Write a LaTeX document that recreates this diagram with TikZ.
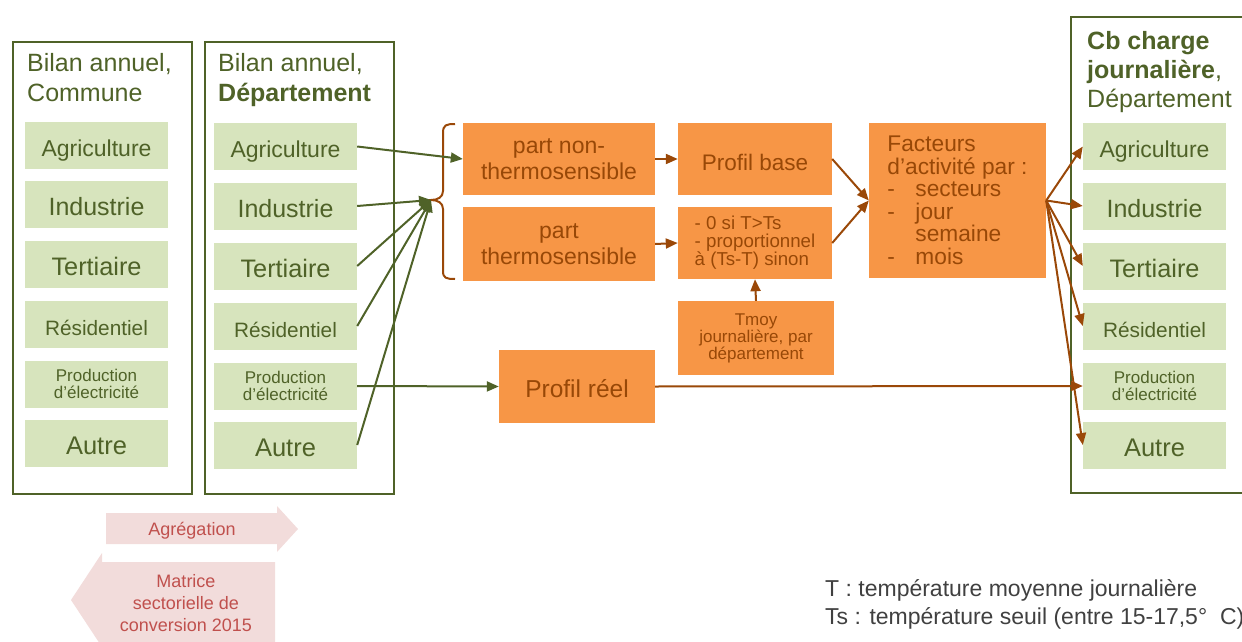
\documentclass[tikz,border=0pt]{standalone}
\usepackage{fontspec}
\setmainfont{Liberation Sans}
\usetikzlibrary{arrows.meta}

\definecolor{gline}{HTML}{4F6228}
\definecolor{gfill}{HTML}{D7E4BD}
\definecolor{ofill}{HTML}{F79646}
\definecolor{otext}{HTML}{984807}
\definecolor{arrbrown}{HTML}{9A4808}
\definecolor{pfill}{HTML}{F2DCDB}
\definecolor{ptext}{HTML}{C0504D}
\definecolor{notegrey}{HTML}{404040}

\newcommand\setfs[2]{\fontsize{#1}{#2}\selectfont}
\newcommand\dashitem[1]{\makebox[28pt][l]{-}#1}

\begin{document}
\begin{tikzpicture}[x=1pt,y=-1pt,
  frame/.style={draw=gline, line width=2.4, inner sep=0, anchor=north west},
  gbox/.style={fill=gfill, text=gline, inner sep=0, align=center,
               minimum width=143, minimum height=47},
  oneline/.style={text height=27pt, text depth=5pt},
  obox/.style={fill=ofill, text=otext, inner sep=0, align=center},
  ttl/.style={text=gline, inner sep=0, align=left, anchor=base west,
              font=\setfs{25}{29}},
  garrow/.style={draw=gline, line width=2, -{Triangle[length=12,width=10]}},
  barrow/.style={draw=arrbrown, line width=2, -{Triangle[length=12,width=10]}},
  pinklabel/.style={text=ptext, inner sep=0, align=center, font=\setfs{18}{22}}
]
\useasboundingbox (0,0) rectangle (1242,642);

% ---------- annual balance, commune ----------
\node[frame, minimum width=179, minimum height=452] (fcom) at (12,41) {};
\node[ttl] (tcom1) at (27,72) {Bilan annuel,};
\node[ttl] (tcom2) at (27,101) {Commune};
\node[gbox, oneline, font=\setfs{23}{24}] (cA) at (96.5,145.5) {Agriculture};
\node[gbox, oneline, font=\setfs{25}{26}] (cI) at (96.5,204.5) {Industrie};
\node[gbox, oneline, font=\setfs{25.3}{26}] (cT) at (96.5,264) {Tertiaire};
\node[gbox, oneline, font=\setfs{20.8}{22}] (cR) at (96.5,324.5) {Résidentiel};
\node[gbox, font=\setfs{17}{17}] (cP) at (96.5,384) {Production\\d’électricité};
\node[gbox, oneline, font=\setfs{25.5}{27}] (cAu) at (96.5,443) {Autre};

% ---------- annual balance, departement ----------
\node[frame, minimum width=189, minimum height=452] (fdep) at (204,41) {};
\node[ttl] (tdep1) at (218,72) {Bilan annuel,};
\node[ttl] (tdep2) at (218,101) {\bfseries Département};
\node[gbox, oneline, font=\setfs{23}{24}] (dA) at (285.5,146.5) {Agriculture};
\node[gbox, oneline, font=\setfs{25}{26}] (dI) at (285.5,206) {Industrie};
\node[gbox, oneline, font=\setfs{25.3}{26}] (dT) at (285.5,266) {Tertiaire};
\node[gbox, oneline, font=\setfs{20.8}{22}] (dR) at (285.5,326) {Résidentiel};
\node[gbox, font=\setfs{17}{17}] (dP) at (285.5,386) {Production\\d’électricité};
\node[gbox, oneline, font=\setfs{25.5}{27}] (dAu) at (285.5,445) {Autre};

% ---------- daily load curves, departement ----------
\draw[draw=gline, line width=2.4] (1244,17) -- (1071,17) -- (1071,493) -- (1244,493);
\node[ttl] (tcb1) at (1087,49) {\bfseries Cb charge};
\node[ttl] (tcb2) at (1087,78) {\bfseries journalière\mdseries,};
\node[ttl] (tcb3) at (1087,107) {Département};
\node[gbox, oneline, font=\setfs{23}{24}] (rA) at (1154.5,146.5) {Agriculture};
\node[gbox, oneline, font=\setfs{25}{26}] (rI) at (1154.5,206) {Industrie};
\node[gbox, oneline, font=\setfs{25.3}{26}] (rT) at (1154.5,266) {Tertiaire};
\node[gbox, oneline, font=\setfs{20.8}{22}] (rR) at (1154.5,326) {Résidentiel};
\node[gbox, font=\setfs{17}{17}] (rP) at (1154.5,386) {Production\\d’électricité};
\node[gbox, oneline, font=\setfs{25.5}{27}] (rAu) at (1154.5,445) {Autre};

% ---------- processing chain ----------
\node[obox, minimum width=192, minimum height=72, font=\setfs{23}{26}]
  (nonth) at (559,159) {part non-\\thermosensible};
\node[obox, minimum width=192, minimum height=74, font=\setfs{23}{26}]
  (therm) at (559,244) {part\\thermosensible};
\node[obox, oneline, minimum width=154, minimum height=72, font=\setfs{22.5}{26}]
  (pbase) at (755,159) {Profil base};
\node[obox, minimum width=154, minimum height=72, align=left, font=\setfs{18.7}{18}]
  (cond) at (755,243) {- 0 si T>Ts\\- proportionnel\\à (Ts-T) sinon};
\node[obox, minimum width=156, minimum height=74, font=\setfs{17}{15}]
  (tmoy) at (756,338) {Tmoy\\journalière, par\\département};
\node[obox, oneline, minimum width=156, minimum height=73, font=\setfs{24.5}{27}]
  (reel) at (577,386.5) {Profil réel};
\node[obox, minimum width=177, minimum height=155, align=left, font=\setfs{22.7}{22.5}]
  (fact) at (957.5,200.5)
  {Facteurs\\d’activité par :\\\dashitem{secteurs}\\\dashitem{jour}\\\hspace*{28pt}semaine\\\dashitem{mois}};

% brace grouping the two parts
\coordinate (bracetip) at (431,200);
\draw[draw=arrbrown, line width=2]
  (455,124) .. controls (446,124) and (443,125) .. (443,133) -- (443,191)
  .. controls (443,197) and (438,200) .. (bracetip)
  .. controls (438,200) and (443,203) .. (443,209) -- (443,271)
  .. controls (443,278) and (446,279) .. (455,279);

% ---------- connectors ----------
\draw[garrow] (dA.east) -- (nonth.west);
\draw[garrow] (dI.east) -- (bracetip);
\draw[garrow] (dT.east) -- (bracetip);
\draw[garrow] (dR.east) -- (bracetip);
\draw[garrow] (dAu.east) -- (bracetip);
\draw[garrow] (dP.east) -- (reel.west);

\draw[barrow] (nonth.east) -- (pbase.west);
\draw[barrow] (therm.east) -- (cond.west);
\draw[barrow] (tmoy.north) -- (cond.south);
\draw[barrow] (pbase.east) -- (fact.west);
\draw[barrow] (cond.east) -- (fact.west);
\foreach \t in {rA,rI,rT,rR,rAu}
  \draw[barrow] (fact.east) -- (\t.west);
\draw[barrow] (reel.east) -- (rP.west);

% ---------- aggregation / conversion arrows ----------
\fill[pfill] (106,513) -- (277,513) -- (277,506) -- (298,529) -- (277,552)
  -- (277,544) -- (106,544) -- cycle;
\node[pinklabel] (agg) at (192,531) {Agrégation};
\fill[pfill] (275,562) -- (102,562) -- (102,553) -- (71,600) -- (102,647)
  -- (102,645) -- (275,645) -- cycle;
\node[pinklabel] (matr) at (186,603) {Matrice\\sectorielle de\\conversion 2015};

% ---------- notes ----------
\node[text=notegrey, inner sep=0, anchor=base west, font=\setfs{23}{27}]
  (noteT) at (825,596) {T : température moyenne journalière};
\node[text=notegrey, inner sep=0, anchor=base west, font=\setfs{23}{27}]
  (noteTs) at (825,624) {Ts : température seuil (entre 15-17,5°\ \ C)};
\end{tikzpicture}
\end{document}
